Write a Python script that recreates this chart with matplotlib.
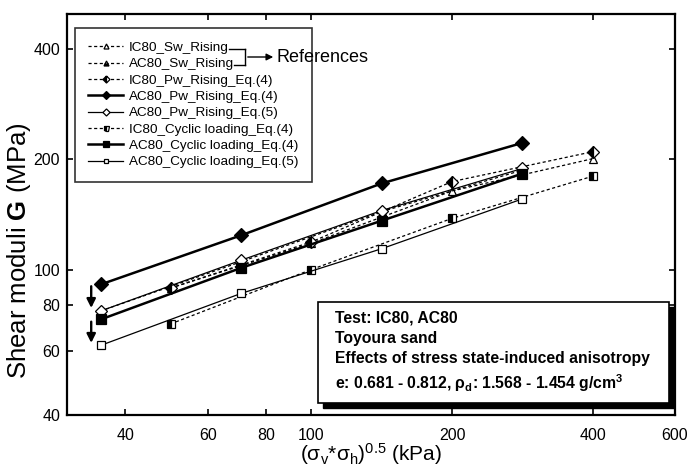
import matplotlib
matplotlib.use("Agg")
import matplotlib.pyplot as plt
from matplotlib.patches import Rectangle, FancyArrowPatch
from matplotlib.lines import Line2D

plt.rcParams['font.family'] = ['Liberation Sans', 'DejaVu Sans']
plt.rcParams['mathtext.fontset'] = 'custom'
plt.rcParams['mathtext.rm'] = 'Liberation Sans'
plt.rcParams['mathtext.it'] = 'Liberation Sans'
plt.rcParams['mathtext.bf'] = 'Liberation Sans:bold'

# mean stress (kPa)
x_ic = [50, 100, 200, 400]
x_ac = [35.4, 70.7, 141.4, 282.8]

# shear moduli G (MPa)
ic_sw = [89, 118, 164, 201]
ac_sw = [77, 105, 144, 187]
ic_pw4 = [89, 119, 174, 210]
ac_pw4 = [91, 124, 172, 222]
ac_pw5 = [77, 106, 145, 189]
ic_cy4 = [71, 100, 138, 180]
ac_cy4 = [73, 101, 136, 183]
ac_cy5 = [62, 86, 114, 156]

labels = ['IC80_Sw_Rising', 'AC80_Sw_Rising', 'IC80_Pw_Rising_Eq.(4)',
          'AC80_Pw_Rising_Eq.(4)', 'AC80_Pw_Rising_Eq.(5)',
          'IC80_Cyclic loading_Eq.(4)', 'AC80_Cyclic loading_Eq.(4)',
          'AC80_Cyclic loading_Eq.(5)']

fig = plt.figure(figsize=(6.88, 4.71), dpi=100)
ax = fig.add_axes([67/688, 56/471, 608/688, 401/471])

dash = (0, (2.5, 2))
k = dict(color='black', markeredgecolor='black', markeredgewidth=0.9)
ax.plot(x_ic, ic_sw, linestyle=dash, lw=0.9, marker='^', ms=6, mfc='white', label=labels[0], **k)
ax.plot(x_ac, ac_sw, linestyle=dash, lw=0.9, marker='^', ms=6, fillstyle='bottom', mfc='black', mfcalt='white', label=labels[1], **k)
ax.plot(x_ic, ic_pw4, linestyle=dash, lw=0.9, marker='D', ms=6, fillstyle='left', mfc='black', mfcalt='white', label=labels[2], **k)
ax.plot(x_ac, ac_pw4, linestyle='-', lw=1.8, marker='D', ms=7.5, mfc='black', label=labels[3], **k)
ax.plot(x_ac, ac_pw5, linestyle='-', lw=0.9, marker='D', ms=6, mfc='white', label=labels[4], **k)
ax.plot(x_ic, ic_cy4, linestyle=dash, lw=0.9, marker='s', ms=6, fillstyle='left', mfc='black', mfcalt='white', label=labels[5], **k)
ax.plot(x_ac, ac_cy4, linestyle='-', lw=1.8, marker='s', ms=6.5, mfc='black', label=labels[6], **k)
ax.plot(x_ac, ac_cy5, linestyle='-', lw=0.9, marker='s', ms=6, mfc='white', label=labels[7], **k)

ax.set_xscale('log')
ax.set_yscale('log')
ax.set_xlim(30, 600)
ax.set_ylim(40, 500)
xt = [40, 60, 80, 100, 200, 400, 600]
yt = [40, 60, 80, 100, 200, 400]
ax.set_xticks(xt)
ax.set_xticklabels([str(v) for v in xt])
ax.set_yticks(yt)
ax.set_yticklabels([str(v) for v in yt])
ax.minorticks_off()
ax.tick_params(which='major', direction='in', top=True, right=True, length=4,
               width=1.2, labelsize=11.5)
ax.tick_params(axis='x', pad=9)
ax.tick_params(axis='y', pad=5)
for s in ax.spines.values():
    s.set_linewidth(1.6)

ax.set_xlabel('(σ$_v$*σ$_h$)$^{0.5}$ (kPa)', fontsize=15, labelpad=-1)
ax.set_ylabel('Shear moduli $\\mathbf{G}$ (MPa)', fontsize=18.5)
ax.yaxis.set_label_coords(-0.056, 0.41)

# downward arrows
for y0, y1 in [(90, 78.5), (72, 63)]:
    ax.annotate('', xy=(33.8, y1), xytext=(33.8, y0),
                arrowprops=dict(arrowstyle='-|>', color='black', lw=1.7,
                                mutation_scale=13, shrinkA=0, shrinkB=0))

leg = ax.legend(loc='upper left', bbox_to_anchor=(0.013, 0.965), borderaxespad=0,
                fontsize=9.7, frameon=True, fancybox=False, edgecolor='black',
                markerscale=0.6, handlelength=2.6, labelspacing=0.29,
                borderpad=1.0, handletextpad=0.4)
leg.get_frame().set_linewidth(1.2)


def px(x, y):
    return x / 688, 1 - y / 471


for seg in [((229, 49), (245, 49)), ((234, 65), (245, 65)), ((245, 49), (245, 65))]:
    (a, b), (c, d) = px(*seg[0]), px(*seg[1])
    fig.add_artist(Line2D([a, c], [b, d], color='black', lw=1.0, transform=fig.transFigure))
fig.add_artist(FancyArrowPatch(px(245, 57), px(276, 57), transform=fig.transFigure,
                               arrowstyle='-|>', mutation_scale=10, color='black', lw=1.0))
fig.text(*px(277, 57), 'References', fontsize=13, va='center', ha='left')

# info box with shadow
ax.add_patch(Rectangle((0.421, 0.0175), 0.577, 0.252, transform=ax.transAxes,
                       facecolor='black', edgecolor='black', zorder=5, clip_on=False))
ax.add_patch(Rectangle((0.413, 0.030), 0.577, 0.252, transform=ax.transAxes,
                       facecolor='white', edgecolor='black', lw=1.2, zorder=6))
info = ['Test: IC80, AC80', 'Toyoura sand', 'Effects of stress state-induced anisotropy',
        'e: 0.681 - 0.812, ρ$_\\mathbf{d}$: 1.568 - 1.454 g/cm$^\\mathbf{3}$']
for s, yy in zip(info, [0.242, 0.192, 0.142, 0.080]):
    ax.text(0.441, yy, s, transform=ax.transAxes, fontsize=11.3, fontweight='bold',
            va='center', ha='left', zorder=7)

fig.savefig('out.png', dpi=100)
